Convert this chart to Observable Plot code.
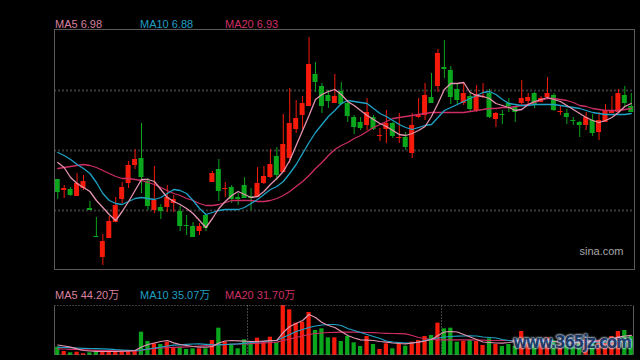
<!DOCTYPE html>
<html><head><meta charset="utf-8">
<script src="https://cdn.jsdelivr.net/npm/d3@7"></script>
<script src="https://cdn.jsdelivr.net/npm/@observablehq/plot@0.6"></script>
<style>
html,body{margin:0;padding:0;background:#000;}
#wrap{position:relative;width:640px;height:360px;background:#000;overflow:hidden;font-family:"Liberation Sans",Arial,"Noto Sans CJK SC",sans-serif;}
.lbl{position:absolute;font-size:11px;white-space:nowrap;line-height:1;}
.plot{position:absolute;left:0;}
#wm{position:absolute;left:513px;top:333px;font:bold 17px "DejaVu Sans Condensed","DejaVu Sans",sans-serif;letter-spacing:-1.3px;color:#1c3d6e;text-shadow:0 0 2px #e8f2ff,0 0 2px #e8f2ff,0 0 3px #bcd6f0;opacity:0.9;white-space:nowrap;line-height:1.1;}
</style></head><body><div id="wrap"></div>
<script>
// ---- data ----
const open = [6.22,6.11,6.12,6.05,6.13,5.93,5.65,5.44,5.63,5.79,
  6.02,6.18,6.36,6.43,6.20,5.91,5.94,5.94,5.98,5.90,
  5.76,5.75,5.70,5.86,6.19,6.32,6.12,6.14,6.04,6.16,
  6.05,6.04,6.18,6.24,6.45,6.29,6.43,6.72,6.86,6.95,
  7.27,7.15,7.06,6.98,7.10,6.98,6.84,6.79,6.76,6.84,
  6.65,6.72,6.78,6.63,6.64,6.48,6.84,6.86,7.04,7.15,
  7.34,7.31,7.12,6.98,7.05,6.91,7.04,7.08,6.82,6.87,
  6.98,6.94,6.98,7.00,7.08,6.99,7.04,7.06,6.89,6.88,
  6.81,6.79,6.76,6.81,6.69,6.79,6.88,6.89,7.06,6.95];
const close = [6.09,6.13,6.06,6.18,6.20,5.91,5.64,5.60,5.80,5.96,
  6.14,6.36,6.42,6.24,5.95,6.01,5.90,6.04,6.02,5.75,
  5.75,5.64,5.75,5.73,6.28,6.10,6.13,6.02,6.02,6.03,
  6.03,6.18,6.25,6.37,6.26,6.57,6.78,6.83,6.98,7.37,
  7.19,6.95,7.00,7.05,6.97,6.85,6.74,6.73,6.89,6.72,
  6.66,6.78,6.65,6.64,6.54,6.76,6.86,7.06,6.98,7.48,
  7.32,7.04,7.01,7.08,6.92,7.07,7.05,6.84,6.88,6.86,
  6.95,6.89,7.03,7.04,6.97,7.03,7.08,6.91,6.90,6.84,
  6.80,6.76,6.84,6.68,6.81,6.91,6.91,7.08,6.98,6.89];
const high = [6.22,6.16,6.14,6.28,6.26,6.00,5.84,5.67,5.85,6.04,
  6.19,6.40,6.52,6.78,6.23,6.35,5.97,6.16,6.06,5.95,
  5.86,5.79,5.78,5.87,6.30,6.42,6.19,6.16,6.08,6.24,
  6.13,6.34,6.35,6.52,6.54,6.87,7.13,7.01,7.05,7.64,
  7.39,7.18,7.11,7.27,7.19,6.99,6.86,6.84,7.03,6.86,
  6.73,6.91,6.79,6.88,6.69,6.88,7.03,7.18,7.28,7.52,
  7.61,7.35,7.18,7.19,7.09,7.16,7.18,7.12,6.89,6.91,
  7.03,6.95,7.21,7.08,7.09,7.05,7.24,7.08,6.96,6.92,
  6.84,6.80,6.89,6.87,6.89,6.97,7.05,7.12,7.15,7.08];
const low = [6.02,6.03,6.05,6.05,6.11,5.91,5.64,5.36,5.63,5.79,
  5.98,6.13,6.32,6.08,5.91,5.88,5.82,5.89,5.89,5.70,
  5.66,5.64,5.66,5.70,6.19,6.00,6.04,5.98,5.96,6.03,
  5.91,6.04,6.17,6.23,6.21,6.29,6.38,6.68,6.72,6.95,
  7.09,6.88,6.93,6.98,6.96,6.79,6.67,6.71,6.71,6.71,
  6.60,6.58,6.63,6.58,6.51,6.43,6.83,6.81,6.98,7.09,
  7.23,6.97,6.97,6.96,6.89,6.89,7.03,6.83,6.74,6.77,
  6.89,6.79,6.96,6.96,6.93,6.99,7.03,6.90,6.86,6.77,
  6.76,6.64,6.71,6.65,6.61,6.79,6.88,6.89,6.94,6.89];
const ma5 = [6.39,6.34,6.24,6.18,6.14,6.10,6.01,5.94,5.87,5.81,
  5.90,6.00,6.11,6.22,6.22,6.20,6.12,6.04,6.00,5.97,
  5.93,5.88,5.81,5.74,5.83,5.93,6.00,6.06,6.10,6.07,
  6.04,6.05,6.10,6.17,6.23,6.30,6.41,6.56,6.71,6.86,
  7.02,7.07,7.10,7.12,7.07,7.00,6.96,6.91,6.86,6.82,
  6.78,6.75,6.71,6.67,6.66,6.68,6.71,6.75,6.85,6.98,
  7.12,7.18,7.18,7.19,7.09,7.06,7.05,7.03,6.98,6.96,
  6.94,6.91,6.92,6.97,7.00,7.02,7.04,7.02,7.00,6.96,
  6.92,6.88,6.84,6.81,6.79,6.81,6.84,6.89,6.95,6.98];
const ma10 = [6.49,6.46,6.42,6.37,6.33,6.28,6.19,6.08,6.01,5.98,
  5.97,6.00,6.03,6.04,6.03,6.02,6.04,6.08,6.12,6.11,
  6.08,6.01,5.93,5.87,5.89,5.91,5.92,5.92,5.92,5.94,
  5.98,6.02,6.07,6.12,6.15,6.20,6.28,6.37,6.48,6.59,
  6.69,6.77,6.85,6.91,6.98,7.01,7.00,6.99,6.98,6.93,
  6.88,6.85,6.81,6.77,6.74,6.72,6.74,6.76,6.77,6.84,
  6.91,6.94,6.97,7.00,7.03,7.06,7.09,7.10,7.07,7.02,
  6.98,6.97,6.96,6.96,6.97,6.97,6.97,6.97,6.96,6.95,
  6.94,6.93,6.91,6.89,6.88,6.87,6.87,6.87,6.87,6.88];
const ma20 = [6.33,6.34,6.35,6.36,6.37,6.36,6.34,6.31,6.28,6.25,
  6.23,6.23,6.22,6.21,6.19,6.17,6.14,6.11,6.08,6.06,
  6.03,6.01,5.98,5.96,5.96,5.97,5.99,6.01,6.01,6.01,
  6.01,6.00,6.00,6.01,6.03,6.06,6.10,6.15,6.20,6.26,
  6.33,6.39,6.46,6.52,6.56,6.59,6.63,6.66,6.70,6.74,
  6.77,6.80,6.83,6.84,6.85,6.86,6.87,6.88,6.89,6.89,
  6.89,6.89,6.89,6.89,6.90,6.91,6.92,6.93,6.93,6.94,
  6.94,6.95,6.96,6.97,6.99,7.01,7.03,7.03,7.02,7.01,
  6.99,6.96,6.95,6.93,6.92,6.91,6.91,6.91,6.92,6.93];
// volume in 万 (10k shares)
const volume = [18.3,8.8,5.9,7.3,3.7,5.9,11,9.5,7.3,9.5,
  8.8,9.5,11,51.3,30.8,25.7,24.2,29.3,16.1,18.3,
  13.2,14.7,14.7,14.7,33,60.1,29.3,23.5,14.7,34.5,
  25.7,38.1,29.3,40.3,27.9,110,100.5,71.1,73.3,94.6,
  55,58.7,38.9,38.9,30.8,41.8,27.9,19.8,41.8,24.2,
  13.2,25.7,14.7,25.7,20.5,29.3,33,41.8,44,71.1,
  58.7,60.1,29.3,31.5,33,30.8,22,36.7,24.2,19.8,
  24.2,19.8,52.8,29.3,26.4,26.4,38.9,33,22,28.6,
  17.6,28.6,34.5,25.7,31.5,26.4,41.8,52.8,55,41.8];
const volMa5 = [23.1,20.9,18.3,14.7,11,9.9,8.8,8.8,8.8,8.8,
  9.5,9.9,11,18.7,24.2,27.5,30.8,33,27.9,24.2,
  22,19.8,18.3,18.3,19.8,27.5,31.9,33,32.3,31.5,
  30.8,30.8,31.9,33,33,50.6,63.8,70.4,77,90.2,
  83.6,72.6,66,61.6,52.8,44,38.5,34.5,33.7,33,
  30.8,29.3,27.5,26.4,25.7,27.5,29.3,31.9,35.2,44,
  51.7,52.8,51.7,46.2,40.7,35.2,29.7,28.6,27.5,27.1,
  28.6,30.8,33,33.7,34.5,33.7,31.9,30.8,29.3,27.9,
  27.1,28.2,29.3,30.8,31.9,33,36.3,40.7,42.9,44.2];
const volMa10 = [18.3,17.6,17.2,16.5,15.8,15.4,15,14.7,13.9,12.8,
  12.1,11.4,11,12.1,14.3,16.5,18.7,20.9,22.7,23.5,
  24.6,25.3,25.7,24.6,23.8,23.5,24.2,24.9,25.7,27.1,
  28.6,29.7,30.8,31.9,33,39.6,46.2,52.8,57.2,61.6,
  64.9,67.1,68.2,68.2,66,59.4,55,50.6,46.2,41.8,
  37.4,31.9,29.7,28.6,27.5,27.5,29.7,33,36.3,38.5,
  40.7,41.8,42.5,42.9,43.3,42.9,40.7,39.6,38.5,35.2,
  33,31.5,30.1,29.3,29.7,30.1,30.4,30.8,30.4,30.1,
  29.7,29.3,29.3,29.3,29.3,29.3,30.4,31.9,33,35.07];
const volMa20 = [14.7,14.3,13.6,13.2,12.5,12.1,11.4,11,10.6,10.1,
  9.9,9.7,9.5,11,13.9,15.4,16.5,17.6,18,18.5,
  19.1,19.8,20.9,22,23.1,23.8,24.2,24.6,25.3,25.5,
  26,26.8,27.9,28.6,29.3,33,36.3,39.6,42.9,46.2,
  48.4,49.5,50.6,51,51.3,51.3,51.3,51,50.6,50.2,
  49.5,48.8,48.4,48,47.7,44,39.6,37.4,35.6,34.5,
  34.5,34.5,34.5,34.5,34.5,34.1,33.7,33,33,33,
  33,33,33,32.3,31.9,31.5,31.2,30.8,31.2,31.7,
  32.1,32.6,33,33.2,33.4,33.5,33.3,33,32.4,31.7];
const gridLevels = [5.91, 6.51, 7.11];
const separators = [30, 60]; // index where a new period begins (volume panel)
const priceLabels = [["MA5", "6.98"], ["MA10", "6.88"], ["MA20", "6.93"]];
const volLabels = [["MA5", "44.20万"], ["MA10", "35.07万"], ["MA20", "31.70万"]];

// ---- styles ----
const UP = "#f51a0a", DOWN = "#0aa61c";
const C5 = "#e493b0", C10 = "#1ea3c6", C20 = "#cc2d63";
const LC = ["#d9809f", "#1f9fc2", "#cf2f66"];

const data = open.map((o, i) => ({
  i, open: o, close: close[i], high: high[i], low: low[i], vol: volume[i],
  ma5: ma5[i], ma10: ma10[i], ma20: ma20[i],
  vma5: volMa5[i], vma10: volMa10[i], vma20: volMa20[i]
}));
const idx = data.map(d => d.i);
const colorOf = d => d.close >= d.open ? UP : DOWN;

const wrap = document.getElementById("wrap");

const main = Plot.plot({
  width: 640, height: 270,
  marginLeft: 54, marginRight: 6, marginTop: 29, marginBottom: 1,
  style: {background: "transparent", overflow: "visible"},
  x: {type: "band", domain: idx, paddingInner: 0.22, paddingOuter: 0.11, axis: null},
  y: {domain: [5.32, 7.72], axis: null},
  color: {type: "identity"},
  marks: [
    Plot.ruleY(gridLevels, {stroke: "#3a3a3a", strokeWidth: 2, strokeDasharray: "2,2"}),
    Plot.ruleX(data, {x: "i", y1: "low", y2: "high", stroke: colorOf, strokeWidth: 1}),
    Plot.barY(data, {x: "i", y1: "open", y2: "close", fill: colorOf}),
    Plot.lineY(data, {x: "i", y: "ma20", stroke: C20, strokeWidth: 1.3}),
    Plot.lineY(data, {x: "i", y: "ma10", stroke: C10, strokeWidth: 1.3}),
    Plot.lineY(data, {x: "i", y: "ma5", stroke: C5, strokeWidth: 1.3}),
    Plot.frame({stroke: "#5a5a5a"}),
    Plot.text(["sina.com"], {frameAnchor: "bottom-right", dx: -11, dy: -15, fill: "#a6a6a6", fontSize: 11, fontFamily: "Liberation Sans, Arial, sans-serif"})
  ]
});
main.classList.add("plot");
main.style.top = "0px";
wrap.appendChild(main);

const volFrame = (index, scales, values, dims) => {
  const {width, height, marginLeft, marginRight, marginTop, marginBottom} = dims;
  const g = d3.create("svg:g");
  const l = marginLeft + 0.5, r = width - marginRight - 0.5, t = marginTop + 0.5, b = height - marginBottom - 0.5;
  const ln = (x1, y1, x2, y2, dash, col) => g.append("line")
    .attr("x1", x1).attr("y1", y1).attr("x2", x2).attr("y2", y2)
    .attr("stroke", col).attr("stroke-width", 1).attr("stroke-dasharray", dash || null);
  ln(l, t, r, t, "1,2", "#777");
  ln(l, b, r, b, "1,2", "#777");
  ln(l, t, l, b, null, "#5a5a5a");
  ln(r, t, r, b, null, "#5a5a5a");
  const x = scales.x;
  const step = typeof x.step === "function" ? x.step() : 0;
  const bw = typeof x.bandwidth === "function" ? x.bandwidth() : 0;
  for (const s of separators) {
    const px = Math.round(x(s) - (step - bw) / 2) + 0.5;
    ln(px, t, px, b, "1,2", "#888");
  }
  return g.node();
};

const vol = Plot.plot({
  width: 640, height: 58,
  marginLeft: 54, marginRight: 6, marginTop: 5, marginBottom: 3,
  style: {background: "transparent", overflow: "visible"},
  x: {type: "band", domain: idx, paddingInner: 0.34, paddingOuter: 0.17, axis: null},
  y: {domain: [0, 110], axis: null},
  color: {type: "identity"},
  marks: [
    Plot.barY(data, {x: "i", y: "vol", fill: colorOf}),
    Plot.lineY(data, {x: "i", y: "vma20", stroke: C20, strokeWidth: 1.2}),
    Plot.lineY(data, {x: "i", y: "vma10", stroke: C10, strokeWidth: 1.2}),
    Plot.lineY(data, {x: "i", y: "vma5", stroke: C5, strokeWidth: 1.2}),
    volFrame
  ]
});
vol.classList.add("plot");
vol.style.top = "300px";
wrap.appendChild(vol);

const lx = [55, 140, 225];
priceLabels.forEach(([a, b], k) => {
  const s = document.createElement("span");
  s.className = "lbl"; s.textContent = a + " " + b;
  s.style.left = lx[k] + "px"; s.style.top = "18.5px"; s.style.color = LC[k];
  wrap.appendChild(s);
});
volLabels.forEach(([a, b], k) => {
  const s = document.createElement("span");
  s.className = "lbl"; s.textContent = a + " " + b;
  s.style.left = lx[k] + "px"; s.style.top = "290px"; s.style.color = LC[k];
  wrap.appendChild(s);
});
const wm = document.createElement("div");
wm.id = "wm"; wm.textContent = "www.365jz.com";
wrap.appendChild(wm);
</script>
</body></html>
